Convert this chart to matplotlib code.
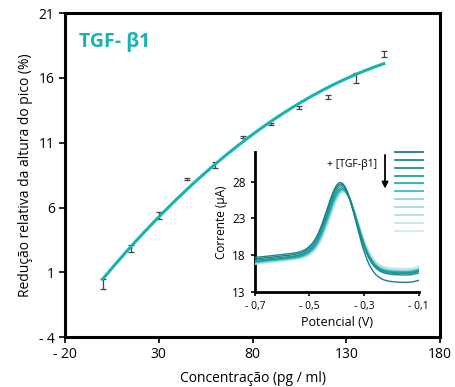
import numpy as np
import matplotlib
matplotlib.use("Agg")
import matplotlib.pyplot as plt

plt.rcParams['font.family'] = ['Open Sans', 'DejaVu Sans']

# calibration data (main plot)
conc = [0, 15, 30, 45, 60, 75, 90, 105, 120, 135, 150]
reduction = [0.1, 2.85, 5.4, 8.2, 9.3, 11.45, 12.45, 13.7, 14.55, 16.0, 17.85]
reduction_err = [0.4, 0.25, 0.25, 0.1, 0.25, 0.1, 0.1, 0.12, 0.15, 0.4, 0.2]
x_ticks = [-20, 30, 80, 130, 180]
x_ticklabels = ['- 20', '30', '80', '130', '180']
y_ticks = [-4, 1, 6, 11, 16, 21]
y_ticklabels = ['- 4', '1', '6', '11', '16', '21']

# inset voltammograms: values read per curve
peak_current = [28.0, 27.7, 27.4, 27.1, 26.95, 26.8, 26.7, 26.6, 26.5, 26.45, 26.4]
peak_potential = [-0.383, -0.382, -0.381, -0.380, -0.378, -0.377, -0.376, -0.375, -0.374, -0.373, -0.372]
start_current = [17.5, 17.7, 17.3, 17.2, 17.1, 17.05, 17.0, 16.95, 16.9, 16.85, 16.8]
valley_current = [14.3, 15.3, 15.5, 15.6, 15.7, 15.75, 15.8, 15.9, 16.0, 16.1, 16.2]
curve_colors = ['#1b7f80', '#1d8c8d', '#1a9596', '#1ea3a4', '#24b1b2', '#3dbdbe',
                '#8fd3d4', '#a9dcdd', '#b7e1e2', '#c3e7e8', '#cdebec']
inset_x_ticks = [-0.7, -0.5, -0.3, -0.1]
inset_x_ticklabels = ['- 0,7', '- 0,5', '- 0,3', '- 0,1']
inset_y_ticks = [13, 18, 23, 28]

teal = '#17b3b3'

fig = plt.figure(figsize=(4.55, 3.87), dpi=100)
ax = fig.add_axes([0.143, 0.129, 0.824, 0.837])

ax.errorbar(conc, reduction, yerr=reduction_err, fmt='none', ecolor='#444444',
            elinewidth=0.9, capsize=2.5, capthick=0.9, zorder=2)
coef = np.polyfit(conc, reduction, 2)
xf = np.linspace(conc[0], conc[-1], 200)
ax.plot(xf, np.polyval(coef, xf), color=teal, lw=2.2, zorder=3)

ax.set_xlim(-20, 180)
ax.set_ylim(-4, 21)
ax.set_xticks(x_ticks)
ax.set_xticklabels(x_ticklabels)
ax.set_yticks(y_ticks)
ax.set_yticklabels(y_ticklabels)
ax.tick_params(direction='out', length=4, width=1.2, labelsize=10, colors='black')
for s in ax.spines.values():
    s.set_linewidth(2.2)
ax.set_xlabel('Concentração (pg / ml)', fontsize=10, labelpad=6)
ax.set_ylabel('Redução relativa da altura do pico (%)', fontsize=10, labelpad=4)
ax.text(0.038, 0.91, 'TGF- β1', transform=ax.transAxes, color=teal,
        fontsize=14, fontweight='bold', va='center', ha='left')

# inset
ins = fig.add_axes([0.560, 0.245, 0.360, 0.362])
ins.set_facecolor('white')
E = np.linspace(-0.7, -0.1, 400)
for i in range(len(peak_current)):
    base_l = start_current[i] + 0.8 * (E + 0.7) / 0.2
    base_l = np.where(E < -0.5, base_l, start_current[i] + 0.8)
    drop = (start_current[i] + 0.8 - valley_current[i]) / (1 + np.exp(-(E + 0.32) / 0.035))
    tail = 120 * np.clip(E + 0.15, 0, None) ** 2
    peak = (peak_current[i] - start_current[i] - 0.4) * np.exp(-(E - peak_potential[i]) ** 2 / (2 * 0.052 ** 2))
    cur = base_l - drop + peak + tail
    ins.plot(E, cur, color=curve_colors[i], lw=1.0, zorder=20 - i)

ins.set_xlim(-0.7, -0.1)
ins.set_ylim(13, 32)
ins.set_xticks(inset_x_ticks)
ins.set_xticklabels(inset_x_ticklabels)
ins.set_yticks(inset_y_ticks)
ins.spines['top'].set_visible(False)
ins.spines['right'].set_visible(False)
ins.spines['left'].set_linewidth(2)
ins.spines['bottom'].set_linewidth(2)
ins.tick_params(direction='out', length=3, width=1.2, labelsize=8.5)
ins.tick_params(axis='x', labelsize=7.5)
ins.set_xlabel('Potencial (V)', fontsize=9, labelpad=3)
ins.set_ylabel('Corrente (µA)', fontsize=8.5, labelpad=3)

# legend-like lines and arrow
for i, c in enumerate(curve_colors):
    yy = 1.0 - i * 0.056
    ins.plot([0.855, 1.025], [yy, yy], transform=ins.transAxes, color=c,
             lw=1.3, clip_on=False)
ins.annotate('', xy=(0.795, 0.72), xytext=(0.795, 1.0), xycoords='axes fraction',
             arrowprops=dict(arrowstyle='-|>', color='black', lw=1.3, mutation_scale=9))
ins.text(0.745, 0.91, '+ [TGF-β1]', transform=ins.transAxes, ha='right',
         va='center', fontsize=7.5)

fig.savefig('out.png', dpi=100)
